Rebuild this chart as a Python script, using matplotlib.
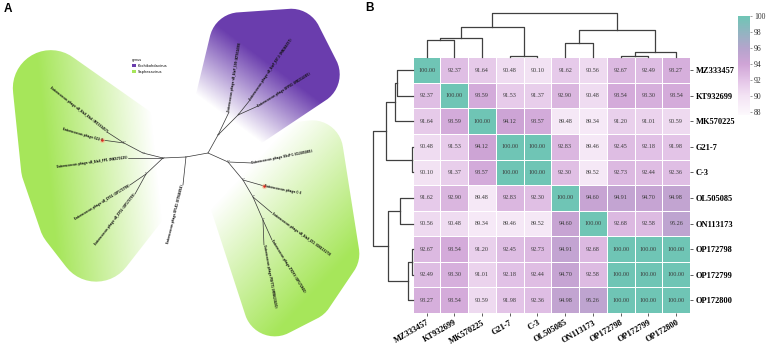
import numpy as np
import matplotlib.pyplot as plt
from matplotlib.colors import LinearSegmentedColormap
from matplotlib.patches import Polygon, Patch

W, H = 767, 344

# ---------------- panel A : unrooted phylogenetic tree ----------------
# every branch: child node, parent node, branch length, branch angle (deg)
tree_nodes = ['n1', 'T0', 'n2', 'n3', 'n4', 'L3', 'n5', 'L1', 'L2', 'L4', 'L5',
              'p1', 'P1', 'p2', 'P2', 'P3',
              'r1', 'R1', 'r2', 'C3', 'r3', 'R3', 'r4', 'R4', 'R5']
tree_parent = ['root', 'n1', 'n1', 'n2', 'n2', 'n2', 'n3', 'n5', 'n5', 'n4', 'n4',
               'root', 'p1', 'p1', 'p2', 'p2',
               'root', 'r1', 'r1', 'r2', 'r2', 'r3', 'r3', 'r4', 'r4']
branch_len = [22.4, 28.2, 23.0, 20.6, 23.3, 35.0, 21.5, 20.2, 22.2, 19.4, 22.8,
              20.6, 25.5, 28.3, 19.2, 21.9,
              21.9, 24.0, 23.4, 21.8, 19.7, 24.8, 25.1, 21.9, 25.0]
branch_ang = [190.3, 263.9, 182.5, 166.0, 223.3, 180.0, 152.2, 147.1, 172.2, 214.5, 241.2,
              60.9, 64.4, 45.0, 51.3, 24.2,
              -24.2, -2.4, -50.2, -15.9, -59.5, -40.1, -66.5, -65.8, -87.7]
bootstrap = {'n1': 100, 'n2': 100, 'n3': 100, 'n4': 100, 'n5': 100,
             'p1': 100, 'p2': 91, 'r1': 100, 'r2': 100, 'r3': 95, 'r4': 78}

tip_ids = ['L1', 'L2', 'L3', 'L4', 'L5', 'T0', 'P1', 'P2', 'P3',
           'R1', 'C3', 'R3', 'R4', 'R5']
tip_names = ['Enterococcus phage vB_EfaS_Efs6 (MZ333457)',
             'Enterococcus phage G21-7',
             'Enterococcus phage vB_EfaS_FP1 (MK570225)',
             'Enterococcus phage vB_ZY01 (OP172798)',
             'Enterococcus phage vB_ZY02 (OP172799)',
             'Enterococcus phage EFLK1 (KT946854)',
             'Enterococcus phage vB_EfaP_199 (KT932699)',
             'Enterococcus phage vB_EfaP_Ef7.3 (MN366357)',
             'Enterococcus phage EFP01 (MK214385)',
             'Enterococcus phage SSsP-1 (OL505085)',
             'Enterococcus phage C-3',
             'Enterococcus phage vB_EfaS_ZC1 (ON113173)',
             'Enterococcus phage ZYDF3 (OP172800)',
             'Enterococcus phage PEf771 (MW623430)']
label_ang = [142, 164, 187.6, 211.6, 232, 256, 80.8, 55.7, 31.9,
             11, -11.3, -35.9, -58.2, -79.9]
highlighted = ['L2', 'C3']

genus_names = ['Kochikohdavirus', 'Saphexavirus']
genus_colors = ['#6a3dad', '#a6e65a']
clade_members = [['p1', 'p2', 'P1', 'P2', 'P3'],
                 ['n3', 'n4', 'n5', 'L1', 'L2', 'L3', 'L4', 'L5'],
                 ['r1', 'r2', 'r3', 'r4', 'R1', 'C3', 'R3', 'R4', 'R5']]
clade_genus = [0, 1, 1]
clade_fade = [(40, 108), (52, 160), (40, 172)]
clade_pad = [31, 38, 31]

root_xy = (208, 153)
char_w = 1.65  # px per character of the tip labels


def px_rect(x0, y0, x1, y1):
    return [x0 / W, 1 - y1 / H, (x1 - x0) / W, (y1 - y0) / H]


def convex_hull(pts):
    pts = sorted(set(map(tuple, np.round(pts, 3))))

    def cross(o, a, b):
        return (a[0] - o[0]) * (b[1] - o[1]) - (a[1] - o[1]) * (b[0] - o[0])
    lower, upper = [], []
    for p in pts:
        while len(lower) >= 2 and cross(lower[-2], lower[-1], p) <= 0:
            lower.pop()
        lower.append(p)
    for p in reversed(pts):
        while len(upper) >= 2 and cross(upper[-2], upper[-1], p) <= 0:
            upper.pop()
        upper.append(p)
    return np.array(lower[:-1] + upper[:-1])


fig = plt.figure(figsize=(W / 100, H / 100), dpi=100)
axA = fig.add_axes(px_rect(0, 0, 380, H))
axA.set_axis_off()

pos = {'root': np.array(root_xy, float)}
for node, par, L, a in zip(tree_nodes, tree_parent, branch_len, branch_ang):
    r = np.radians(a)
    pos[node] = pos[par] + L * np.array([np.cos(r), -np.sin(r)])

label_end = {}
for tid, name, a in zip(tip_ids, tip_names, label_ang):
    r = np.radians(a)
    label_end[tid] = pos[tid] + (len(name) * char_w + 2) * np.array([np.cos(r), -np.sin(r)])

# clade highlight blobs with a fading gradient towards the tree centre
xx, yy = np.meshgrid(np.arange(380) + 0.5, np.arange(H) + 0.5)
for members, g, (s0, s1), pad in zip(clade_members, clade_genus, clade_fade, clade_pad):
    pts = [pos[m] for m in members] + [label_end[m] for m in members if m in label_end]
    pts = np.array(pts)
    th = np.linspace(0, 2 * np.pi, 48, endpoint=False)
    circ = np.stack([np.cos(th), np.sin(th)], 1) * pad
    hull = convex_hull((pts[:, None, :] + circ[None]).reshape(-1, 2))
    u = pts.mean(0) - np.array(root_xy)
    u = u / np.hypot(*u)
    proj = (xx - root_xy[0]) * u[0] + (yy - root_xy[1]) * u[1]
    t = np.clip((proj - s0) / (s1 - s0), 0, 1)
    rgba = np.zeros(xx.shape + (4,))
    rgba[..., :3] = plt.matplotlib.colors.to_rgb(genus_colors[g])
    rgba[..., 3] = t
    poly = Polygon(hull, closed=True, facecolor='none', edgecolor='none')
    axA.add_patch(poly)
    im = axA.imshow(rgba, extent=(0, 380, H, 0), interpolation='bilinear', zorder=1)
    im.set_clip_path(poly)

for node, par in zip(tree_nodes, tree_parent):
    axA.plot([pos[par][0], pos[node][0]], [pos[par][1], pos[node][1]],
             color='#333333', lw=0.5, zorder=3, solid_capstyle='round')
for node, b in bootstrap.items():
    axA.text(pos[node][0] + 1, pos[node][1] - 1, str(b), fontsize=1.6,
             color='#666666', ha='center', va='center', zorder=4)
for tid, name, a in zip(tip_ids, tip_names, label_ang):
    x, y = pos[tid]
    left = 90 < (a % 360) < 270
    rot = a - 180 if left else a
    axA.text(x, y, name, fontsize=2.0, fontweight='bold', rotation=rot,
             rotation_mode='anchor', ha='right' if left else 'left', va='center',
             color='#111111', zorder=5)
for tid in highlighted:
    axA.scatter(*pos[tid], s=14, color='#f7b58a', alpha=0.6, lw=0, zorder=4)
    axA.scatter(*pos[tid], s=3, color='#e0251b', lw=0, zorder=6)

leg = axA.legend([Patch(facecolor=c) for c in genus_colors], genus_names, title='genus',
                 fontsize=2.6, title_fontsize=2.4, frameon=False, loc='upper left',
                 bbox_to_anchor=(129, 55), bbox_transform=axA.transData,
                 handlelength=0.9, handleheight=0.9, handletextpad=0.6,
                 labelspacing=0.5)
leg._legend_box.align = 'left'
axA.set_xlim(0, 380)
axA.set_ylim(H, 0)

# ---------------- panel B : identity heatmap ----------------
genomes = ['MZ333457', 'KT932699', 'MK570225', 'G21-7', 'C-3',
           'OL505085', 'ON113173', 'OP172798', 'OP172799', 'OP172800']
identity = np.array([
    [100.00, 92.37, 91.64, 90.48, 90.10, 91.62, 90.56, 92.67, 92.49, 93.27],
    [92.37, 100.00, 93.59, 91.53, 91.37, 92.90, 90.48, 93.54, 93.30, 93.54],
    [91.64, 93.59, 100.00, 94.12, 93.57, 89.48, 89.34, 91.20, 91.01, 90.59],
    [90.48, 91.53, 94.12, 100.00, 100.00, 92.83, 89.46, 92.45, 92.18, 91.98],
    [90.10, 91.37, 93.57, 100.00, 100.00, 92.30, 89.52, 92.73, 92.44, 92.36],
    [91.62, 92.90, 89.48, 92.83, 92.30, 100.00, 94.60, 94.91, 94.70, 94.98],
    [90.56, 90.48, 89.34, 89.46, 89.52, 94.60, 100.00, 92.68, 92.58, 95.26],
    [92.67, 93.54, 91.20, 92.45, 92.73, 94.91, 92.68, 100.00, 100.00, 100.00],
    [92.49, 93.30, 91.01, 92.18, 92.44, 94.70, 92.58, 100.00, 100.00, 100.00],
    [93.27, 93.54, 90.59, 91.98, 92.36, 94.98, 95.26, 100.00, 100.00, 100.00]])
# clustering: (left, right, relative height); new ids from 10
linkage = [(3, 4, 0.03), (7, 8, 0.03), (11, 9, 0.11), (0, 1, 0.39), (13, 2, 0.45),
           (5, 6, 0.33), (14, 10, 0.69), (15, 12, 0.63), (16, 17, 1.0)]
cbar_ticks = [88, 90, 92, 94, 96, 98, 100]

vmin, vmax = 87.6, 100
stops = [(87.6, '#fdf9fd'), (90, '#f3e3f4'), (92, '#e3c4e7'), (94, '#cfa4d6'),
         (96, '#b4a4cc'), (100, '#6fc5b5')]
cmap = LinearSegmentedColormap.from_list(
    'ident', [((v - vmin) / (vmax - vmin), c) for v, c in stops])

serif = 'Liberation Serif'
axH = fig.add_axes(px_rect(412.7, 57.3, 690, 313))
mesh = axH.pcolormesh(identity, cmap=cmap, vmin=vmin, vmax=vmax,
                      edgecolors='white', linewidth=0.6)
for i in range(10):
    for j in range(10):
        axH.text(j + 0.5, i + 0.5, f'{identity[i, j]:.2f}', ha='center', va='center',
                 fontsize=4.4, family=serif, color='#3a3a3a')
axH.set_xlim(0, 10)
axH.set_ylim(10, 0)
axH.set_xticks(np.arange(10) + 0.5)
axH.set_xticklabels(genomes, rotation=30, ha='right', rotation_mode='anchor',
                    fontsize=6, family=serif, fontweight='bold')
axH.set_yticks(np.arange(10) + 0.5)
axH.yaxis.tick_right()
axH.set_yticklabels(genomes, fontsize=6, family=serif, fontweight='bold')
axH.tick_params(length=2.5, width=0.6, color='#444444', pad=1.5)
for s in axH.spines.values():
    s.set_visible(False)


def dendro_lines(link, n):
    xpos = {i: i + 0.5 for i in range(n)}
    hgt = {i: 0.0 for i in range(n)}
    lines = []
    for k, (a, b, h) in enumerate(link):
        lines.append(([xpos[a], xpos[a], xpos[b], xpos[b]], [hgt[a], h, h, hgt[b]]))
        xpos[n + k] = (xpos[a] + xpos[b]) / 2
        hgt[n + k] = h
    return lines


axT = fig.add_axes(px_rect(412.7, 13.3, 690, 57.3))
axL = fig.add_axes(px_rect(373.3, 57.3, 412.7, 313))
for xs, hs in dendro_lines(linkage, 10):
    axT.plot(xs, hs, color='#404040', lw=0.9, clip_on=False)
    axL.plot(hs, xs, color='#404040', lw=0.9, clip_on=False)
axT.set_xlim(0, 10)
axT.set_ylim(0, 1)
axL.set_xlim(1, 0)
axL.set_ylim(10, 0)
axT.set_axis_off()
axL.set_axis_off()

cax = fig.add_axes(px_rect(737.7, 16, 750, 115))
cb = fig.colorbar(mesh, cax=cax, ticks=cbar_ticks)
cb.outline.set_visible(False)
cax.tick_params(length=1.5, width=0.5, color='#777777', pad=1.5)
for t in cax.get_yticklabels():
    t.set_fontsize(5.5)
    t.set_family(serif)
    t.set_color('#333333')

fig.text(8 / W, 1 - 9 / H, 'A', fontsize=8.5, fontweight='bold', family='Liberation Sans',
         ha='center', va='center')
fig.text(369 / W, 1 - 8 / H, 'B', fontsize=8.5, fontweight='bold', family='Liberation Sans',
         ha='center', va='center')

fig.savefig('out.png', dpi=100)
